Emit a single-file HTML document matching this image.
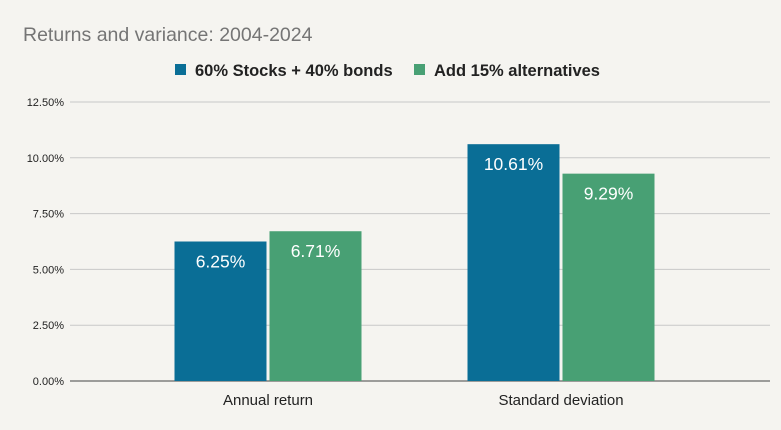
<!DOCTYPE html>
<html><head><meta charset="utf-8"><style>
body{margin:0;background:#f5f4f0;}
svg{display:block;font-family:"Liberation Sans",sans-serif;}
</style></head><body>
<svg id="chart" width="781" height="430">
<rect width="781" height="430" fill="#f5f4f0"/>
<text x="23" y="41" font-size="19.5" fill="#757575">Returns and variance: 2004-2024</text>
<g>
<g><rect x="175" y="64" width="11" height="11" fill="#0a6e96"/><text x="195" y="76" font-size="16.5" font-weight="bold" fill="#222">60% Stocks + 40% bonds</text></g>
<g><rect x="414" y="64" width="11" height="11" fill="#48a074"/><text x="434" y="76" font-size="16.5" font-weight="bold" fill="#222">Add 15% alternatives</text></g>
</g>
<g id="grid"></g><g id="bars"></g><g id="xlabels"></g>
</svg>
<script>
const categories=["Annual return","Standard deviation"];
const series1=[6.25,10.61];
const series2=[6.71,9.29];
const ticks=[0,2.5,5,7.5,10,12.5];
const ns="http://www.w3.org/2000/svg";
const y0=381,yTop=102,yMax=12.5;
const y=v=>y0-(v/yMax)*(y0-yTop);
const x0=70,x1=770;
const bx0=121.5,bx1=707.5,groupW=(bx1-bx0)/categories.length;
function mk(t,a,p){const e=document.createElementNS(ns,t);for(const k in a)e.setAttribute(k,a[k]);p.appendChild(e);return e;}
const grid=document.getElementById('grid');
ticks.forEach(t=>{
 const l=mk('line',{x1:x0,x2:x1,y1:y(t),y2:y(t),stroke:t===0?'#444':'#c8c8c8','stroke-width':1},grid);
 
 
 const tx=mk('text',{x:64,y:y(t)+4,'font-size':11,fill:'#222','text-anchor':'end'},grid);
 tx.textContent=t.toFixed(2)+'%';
 
 
});
const bars=document.getElementById('bars'),xl=document.getElementById('xlabels');
const bw=92,gap=3;
categories.forEach((c,i)=>{
 const cx=bx0+groupW*(i+0.5);
 [[series1,'#0a6e96',cx-gap/2-bw],[series2,'#48a074',cx+gap/2]].forEach(([s,col,bx],j)=>{
  const r=mk('rect',{x:bx,y:y(s[i]),width:bw,height:y0-y(s[i]),fill:col},bars);
  
  
  const t=mk('text',{x:bx+bw/2,y:y(s[i])+26,'font-size':17.5,fill:'#fff','text-anchor':'middle'},bars);
  t.textContent=s[i].toFixed(2)+'%';
  
  
 });
 const t=mk('text',{x:cx,y:405,'font-size':15,fill:'#222','text-anchor':'middle'},xl);
 t.textContent=c;
 
 
});
</script>
</body></html>
